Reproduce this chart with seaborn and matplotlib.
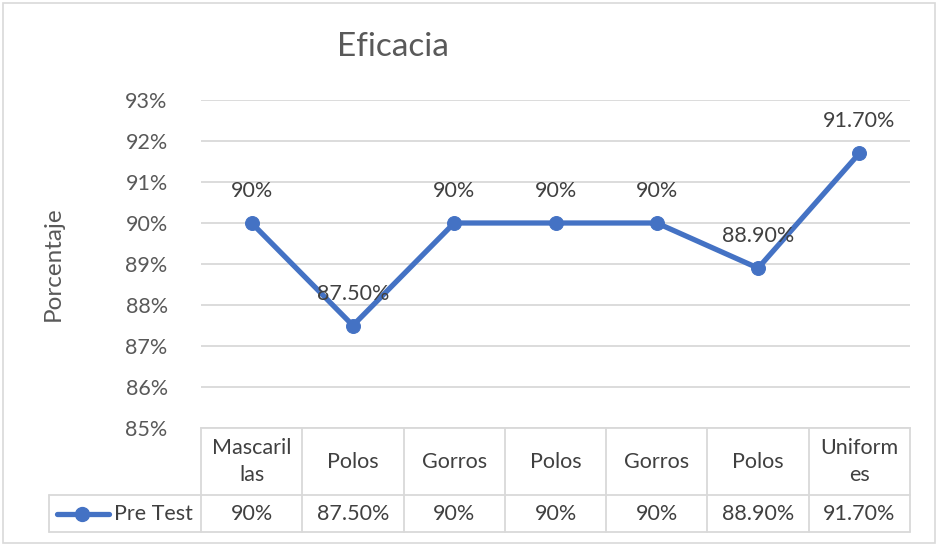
import matplotlib
matplotlib.use("Agg")
import matplotlib.pyplot as plt
import matplotlib.transforms as mtransforms
import seaborn as sns
import pandas as pd
from matplotlib.lines import Line2D
from matplotlib.patches import Rectangle

# ---- data ----
categories = ["Mascarillas", "Polos", "Gorros", "Polos", "Gorros", "Polos", "Uniformes"]
category_labels = ["Mascaril\nlas", "Polos", "Gorros", "Polos", "Gorros", "Polos", "Uniform\nes"]
series_name = "Pre Test"
values = [90.0, 87.5, 90.0, 90.0, 90.0, 88.9, 91.7]
value_labels = ["90%", "87.50%", "90%", "90%", "90%", "88.90%", "91.70%"]
y_ticks = [85, 86, 87, 88, 89, 90, 91, 92, 93]

sns.set_theme(style="white")
plt.rcParams["font.family"] = ["Lato", "DejaVu Sans"]

W, H = 938, 545
fig = plt.figure(figsize=(W / 100, H / 100), dpi=100)
fig.patch.set_facecolor("white")

# outer chart border
fig.add_artist(Rectangle((3 / W, 2 / H), (935 - 3) / W, (542 - 2) / H,
                         transform=fig.transFigure, fill=False,
                         edgecolor="#D9D9D9", linewidth=1.2))

L, R, T, B = 201, 910, 100, 428
ax = fig.add_axes([L / W, 1 - B / H, (R - L) / W, (B - T) / H])

df = pd.DataFrame({"pos": list(range(len(values))), "valor": values, "serie": series_name})
blue = "#4472C4"
sns.lineplot(data=df, x="pos", y="valor", ax=ax, color=blue, linewidth=3.8,
             marker="o", markersize=10, markeredgecolor=blue, legend=False)

FS = 15.5
ax.set_xlim(-0.5, len(values) - 0.5)
ax.set_ylim(85, 93)
ax.set_yticks(y_ticks)
ax.set_yticklabels([f"{t}%" for t in y_ticks])
ax.set_xticks([])
ax.set_xlabel("")
ax.set_ylabel("Porcentaje", fontsize=17.5, color="#595959", labelpad=0)
ax.yaxis.set_label_coords(-(L - 64) / (R - L), 0.5)
ax.tick_params(axis="y", length=0, pad=24, labelsize=FS, labelcolor="#595959")
ax.grid(axis="y", color="#D9D9D9", linewidth=1.3)
ax.set_axisbelow(True)
for s in ["left", "right", "top"]:
    ax.spines[s].set_visible(False)
ax.spines["bottom"].set_color("#D9D9D9")
ax.spines["bottom"].set_linewidth(1.3)

# data labels
for i, (v, lab) in enumerate(zip(values, value_labels)):
    ax.annotate(lab, (i, v), xytext=(0, 23), textcoords="offset points",
                ha="center", va="center", fontsize=FS, color="#404040")

# title
fig.text(393 / W, 1 - 47 / H, "Eficacia", ha="center", va="center",
         fontsize=24, color="#595959")

# ---- data table ----
trans = mtransforms.blended_transform_factory(ax.transData, ax.transAxes)
px = 1.0 / (B - T)  # one pixel in axes fraction (vertical)
row1_bot = -(495 - B) * px
row2_bot = -(532 - B) * px
left_hdr = (49 - L) / (R - L)
gc = "#D9D9D9"
lw = 1.3
n = len(values)
# horizontal lines
ax.add_line(Line2D([left_hdr, 1], [row1_bot, row1_bot], transform=ax.transAxes,
                   color=gc, lw=lw, clip_on=False))
ax.add_line(Line2D([left_hdr, 1], [row2_bot, row2_bot], transform=ax.transAxes,
                   color=gc, lw=lw, clip_on=False))
# vertical lines
for b in [i - 0.5 for i in range(n + 1)]:
    ax.add_line(Line2D([b, b], [0, row2_bot], transform=trans, color=gc, lw=lw,
                       clip_on=False))
ax.add_line(Line2D([left_hdr, left_hdr], [row1_bot, row2_bot], transform=ax.transAxes,
                   color=gc, lw=lw, clip_on=False))

tc = "#404040"
for i, lab in enumerate(category_labels):
    ax.text(i, row1_bot / 2, lab, transform=trans, ha="center", va="center",
            fontsize=FS, color=tc, linespacing=1.45, clip_on=False)
    ax.text(i, (row1_bot + row2_bot) / 2, value_labels[i], transform=trans,
            ha="center", va="center", fontsize=FS, color=tc, clip_on=False)

# legend key in table
ky = (row1_bot + row2_bot) / 2
kx0 = (57 - L) / (R - L)
kx1 = (109 - L) / (R - L)
ax.add_line(Line2D([kx0, kx1], [ky, ky], transform=ax.transAxes, color=blue,
                   lw=3.8, clip_on=False, solid_capstyle="round"))
ax.add_line(Line2D([(82 - L) / (R - L)], [ky], transform=ax.transAxes, color=blue,
                   marker="o", markersize=10, clip_on=False))
ax.text((153 - L) / (R - L), ky, series_name, transform=ax.transAxes,
        ha="center", va="center", fontsize=FS, color=tc, clip_on=False)

fig.savefig("out.png", dpi=100)
